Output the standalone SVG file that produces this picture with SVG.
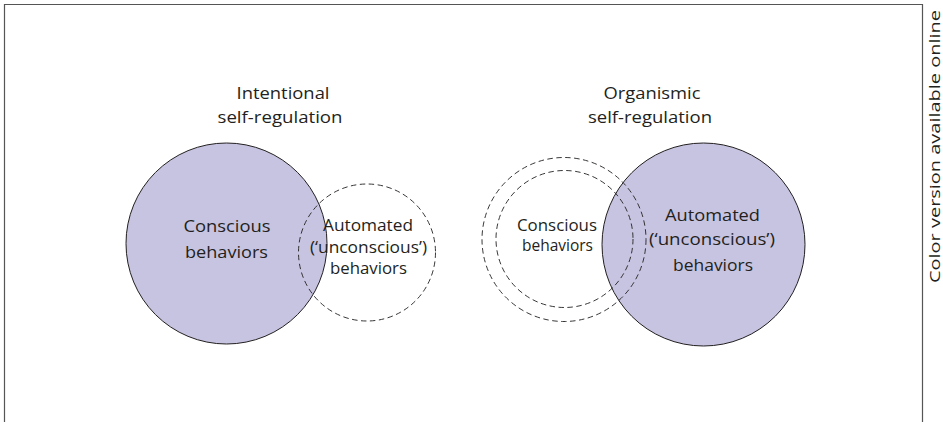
<svg xmlns="http://www.w3.org/2000/svg" width="943" height="422" viewBox="0 0 943 422">
  <style>
    .frame { fill: none; stroke: #555; stroke-width: 1.2; }
    .solid { fill: #c7c4e1; stroke: #231f20; stroke-width: 1; }
    .dash { fill: none; stroke: #231f20; stroke-width: 0.9; stroke-dasharray: 5.5 3.5; }
    text { font-family: "Open Sans", "Noto Sans", "DejaVu Sans", sans-serif; fill: #231f20; text-anchor: middle; }
    .t { font-size: 17px; }
    .s { font-size: 16px; }
    .note { font-size: 14px; text-anchor: start; }
  </style>
  <rect width="943" height="422" fill="#ffffff"/>
  <g id="frame">
    <path class="frame" d="M4.5,422 V4.5 H922.5 V422"/>
  </g>
  <g id="intentional">
    <text class="t" x="283" y="99" textLength="93" lengthAdjust="spacingAndGlyphs">Intentional</text>
    <text class="t" x="280" y="123" textLength="125" lengthAdjust="spacingAndGlyphs">self-regulation</text>
  </g>
  <g id="organismic">
    <text class="t" x="652" y="99" textLength="97" lengthAdjust="spacingAndGlyphs">Organismic</text>
    <text class="t" x="650" y="123" textLength="124" lengthAdjust="spacingAndGlyphs">self-regulation</text>
  </g>
  <g id="left-conscious">
    <circle class="solid" cx="226.5" cy="243.5" r="100.5"/>
  </g>
  <g id="left-automated">
    <circle class="dash" cx="367" cy="252.5" r="68.5"/>
  </g>
  <g id="right-automated">
    <circle class="solid" cx="703.5" cy="244.5" r="101.5"/>
  </g>
  <g id="right-conscious">
    <circle class="dash" cx="564" cy="239.5" r="82"/>
    <circle class="dash" cx="564.5" cy="239" r="68.5"/>
  </g>
  <g id="labels">
    <text class="t" x="227" y="232" textLength="87" lengthAdjust="spacingAndGlyphs">Conscious</text>
    <text class="t" x="226.5" y="258" textLength="83" lengthAdjust="spacingAndGlyphs">behaviors</text>
    <text class="t" x="368" y="231" textLength="90" lengthAdjust="spacingAndGlyphs">Automated</text>
    <text class="t" x="368.5" y="253" textLength="117" lengthAdjust="spacingAndGlyphs">(‘unconscious’)</text>
    <text class="t" x="368.5" y="274" textLength="77" lengthAdjust="spacingAndGlyphs">behaviors</text>
    <text class="s" x="557" y="231" textLength="80" lengthAdjust="spacingAndGlyphs">Conscious</text>
    <text class="s" x="557.5" y="251" textLength="71" lengthAdjust="spacingAndGlyphs">behaviors</text>
    <text class="t" x="712.5" y="221" textLength="95" lengthAdjust="spacingAndGlyphs">Automated</text>
    <text class="t" x="712" y="245" textLength="126" lengthAdjust="spacingAndGlyphs">(‘unconscious’)</text>
    <text class="t" x="713" y="271" textLength="80" lengthAdjust="spacingAndGlyphs">behaviors</text>
  </g>
  <g id="note">
    <text class="note" transform="translate(939.5,283) rotate(-90)" textLength="273" lengthAdjust="spacingAndGlyphs">Color version available online</text>
  </g>
</svg>
